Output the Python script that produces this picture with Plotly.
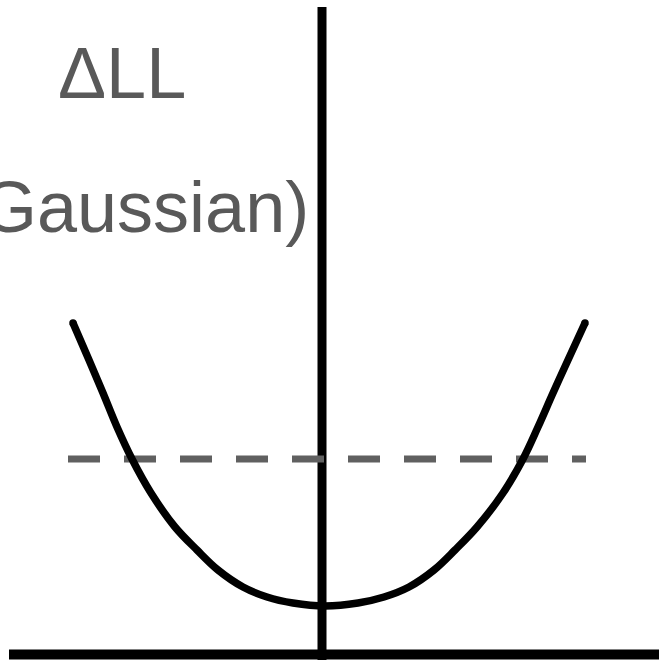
import plotly.graph_objects as go

# Log-likelihood difference profile across the parameter (read as values)
theta = [-2.49, -2.33, -2.19, -2.05, -1.90, -1.71, -1.47, -1.25, -1.04,
         -0.79, -0.55, -0.29, 0.03, 0.36, 0.62, 0.87, 1.12, 1.33,
         1.55, 1.81, 2.01, 2.16, 2.31, 2.46, 2.63]
delta_ll = [3.32, 2.95, 2.62, 2.28, 1.96, 1.62, 1.28, 1.05, 0.85,
            0.68, 0.58, 0.52, 0.49, 0.52, 0.58, 0.68, 0.85, 1.05,
            1.28, 1.62, 1.96, 2.28, 2.62, 2.95, 3.32]

# Threshold level and its horizontal extent
threshold = 1.96
threshold_span = [-2.54, 2.64]

# Axis frames drawn as lines
y_axis_span = [-0.05, 6.48]
x_axis_span = [-3.13, 3.37]
axis_level = 0.005

fig = go.Figure()

# Horizontal axis
fig.add_trace(go.Scatter(x=x_axis_span, y=[axis_level, axis_level], mode="lines",
                         line=dict(color="black", width=10), hoverinfo="skip"))
# Vertical axis
fig.add_trace(go.Scatter(x=[0, 0], y=y_axis_span, mode="lines",
                         line=dict(color="black", width=9), hoverinfo="skip"))
# Dashed threshold
fig.add_trace(go.Scatter(x=threshold_span, y=[threshold, threshold], mode="lines",
                         line=dict(color="#606060", width=7, dash="32px,24px"),
                         hoverinfo="skip"))
# Profile curve
fig.add_trace(go.Scatter(x=theta, y=delta_ll, mode="lines",
                         line=dict(color="black", width=7.5, shape="spline",
                                   smoothing=1.0),
                         hoverinfo="skip"))
# Rounded curve ends
fig.add_trace(go.Scatter(x=[theta[0], theta[-1]], y=[delta_ll[0], delta_ll[-1]],
                         mode="markers", marker=dict(color="black", size=7.5),
                         hoverinfo="skip"))

fig.add_annotation(x=-2.0, y=5.82, text="ΔLL", showarrow=False,
                   xanchor="center", yanchor="middle",
                   font=dict(family="Liberation Sans, Arial", size=72, color="#595959"))
fig.add_annotation(x=-0.11, y=4.48, text="Gaussian)", showarrow=False,
                   xanchor="right", yanchor="middle",
                   font=dict(family="Liberation Sans, Arial", size=72, color="#595959"))

fig.update_layout(
    width=659, height=660,
    margin=dict(l=0, r=0, t=0, b=0),
    paper_bgcolor="white", plot_bgcolor="white",
    showlegend=False,
    xaxis=dict(range=[-3.22, 3.37], visible=False, fixedrange=True),
    yaxis=dict(range=[-0.05, 6.55], visible=False, fixedrange=True),
)

fig.write_html("out.html")
